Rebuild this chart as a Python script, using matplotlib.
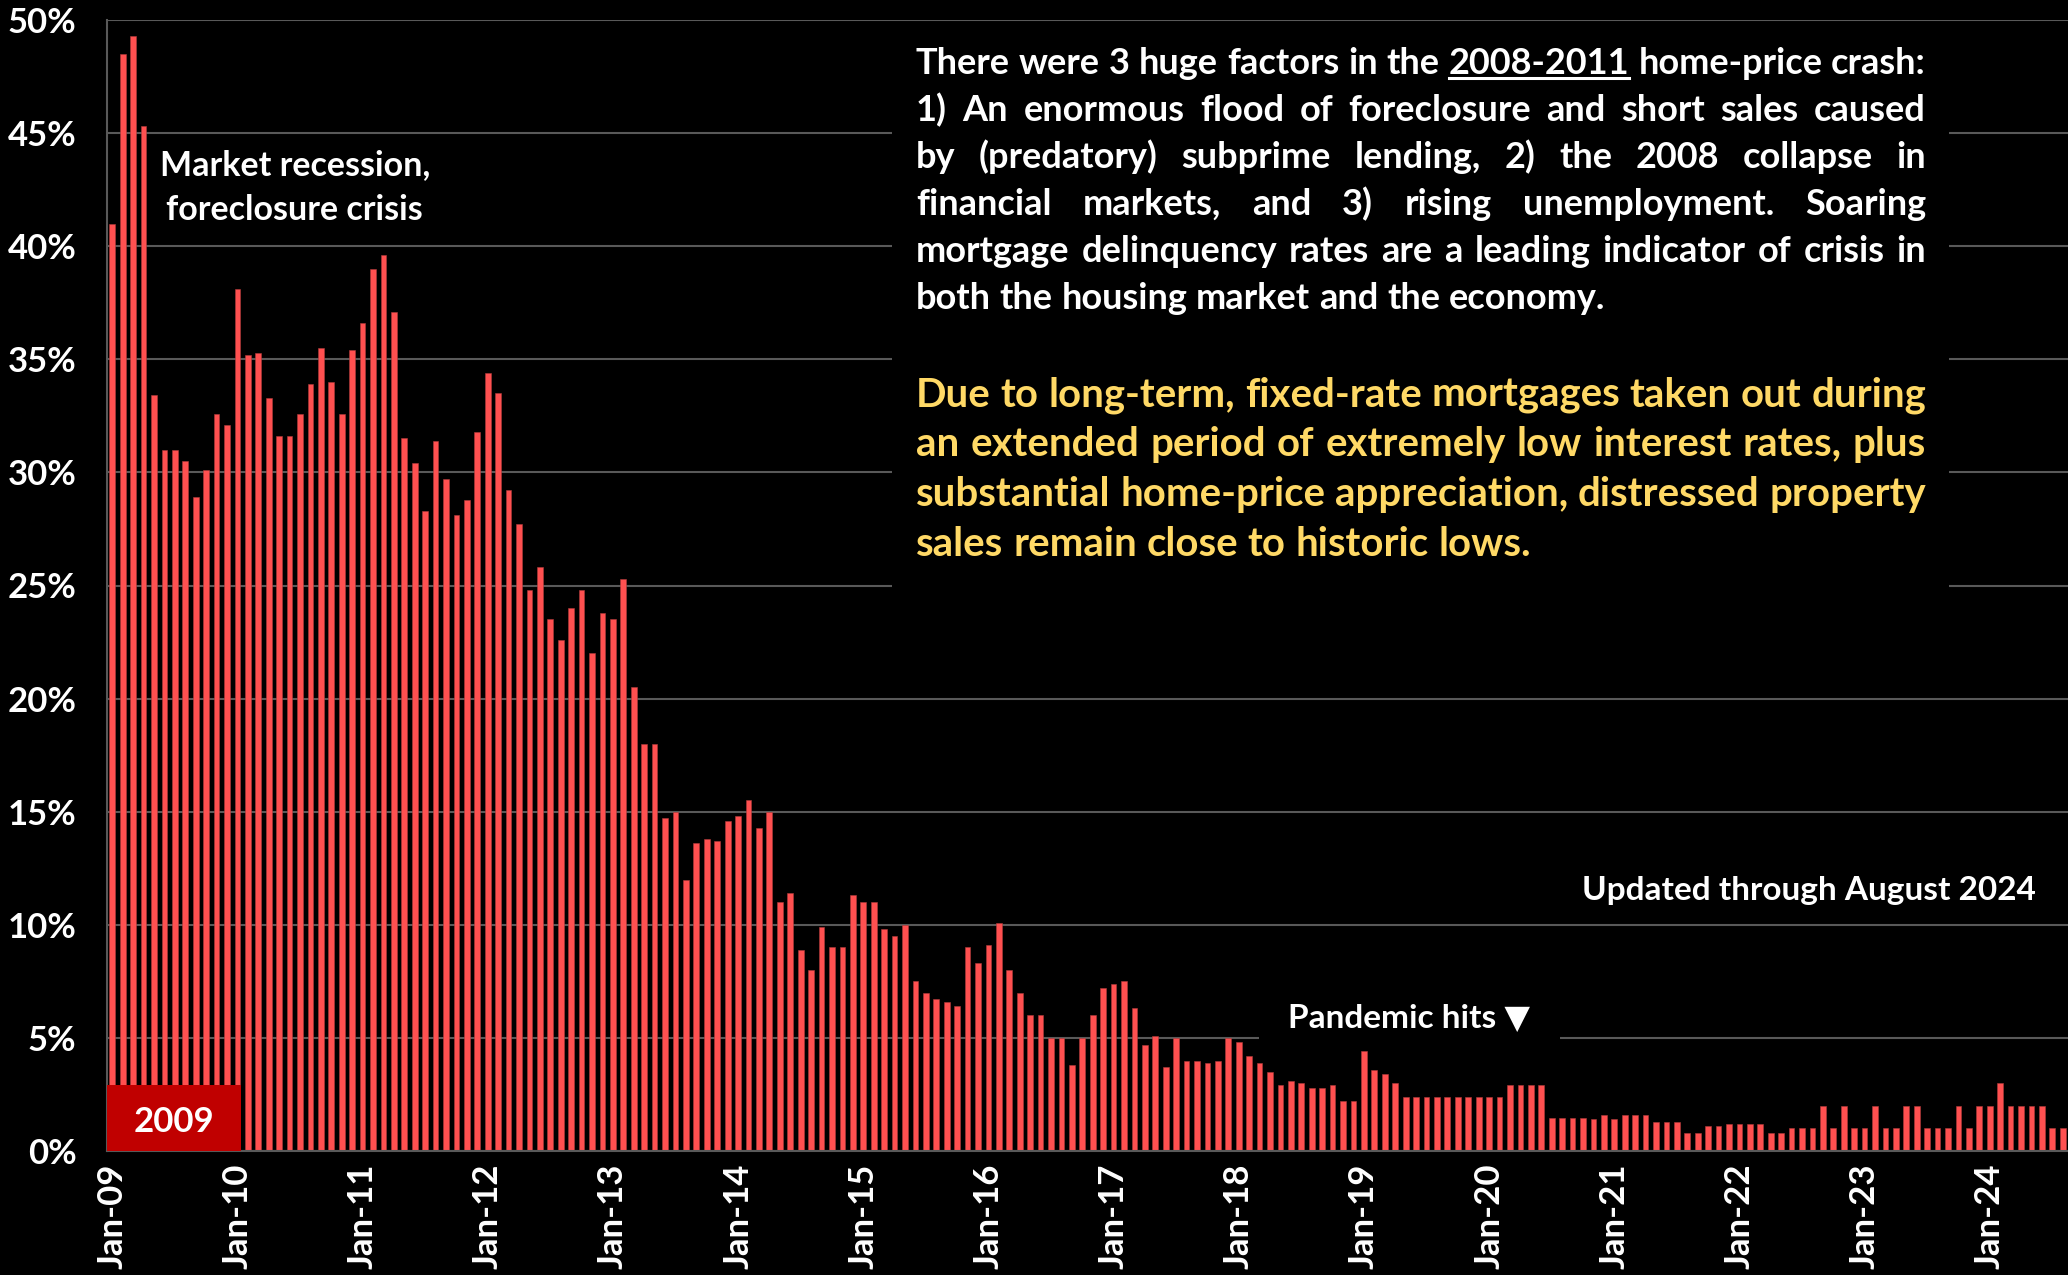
import matplotlib
matplotlib.use('Agg')
import matplotlib.pyplot as plt
from matplotlib.patches import Rectangle
from matplotlib.lines import Line2D
import numpy as np

plt.rcParams['font.family'] = ['Lato', 'DejaVu Sans']
plt.rcParams['font.weight'] = 'bold'

# distressed sales share, monthly Jan-09 .. Aug-24 (percent)
y2009 = [41.0, 48.5, 49.3, 45.3, 33.4, 31.0, 31.0, 30.5, 28.9, 30.1, 32.6, 32.1]
y2010 = [38.1, 35.2, 35.3, 33.3, 31.6, 31.6, 32.6, 33.9, 35.5, 34.0, 32.6, 35.4]
y2011 = [36.6, 39.0, 39.6, 37.1, 31.5, 30.4, 28.3, 31.4, 29.7, 28.1, 28.8, 31.8]
y2012 = [34.4, 33.5, 29.2, 27.7, 24.8, 25.8, 23.5, 22.6, 24.0, 24.8, 22.0, 23.8]
y2013 = [23.5, 25.3, 20.5, 18.0, 18.0, 14.7, 15.0, 12.0, 13.6, 13.8, 13.7, 14.6]
y2014 = [14.8, 15.5, 14.3, 15.0, 11.0, 11.4, 8.9, 8.0, 9.9, 9.0, 9.0, 11.3]
y2015 = [11.0, 11.0, 9.8, 9.5, 10.0, 7.5, 7.0, 6.7, 6.6, 6.4, 9.0, 8.3]
y2016 = [9.1, 10.1, 8.0, 7.0, 6.0, 6.0, 5.0, 5.0, 3.8, 5.0, 6.0, 7.2]
y2017 = [7.4, 7.5, 6.3, 4.7, 5.1, 3.7, 5.0, 4.0, 4.0, 3.9, 4.0, 5.0]
y2018 = [4.8, 4.2, 3.9, 3.5, 2.9, 3.1, 3.0, 2.8, 2.8, 2.9, 2.2, 2.2]
y2019 = [4.4, 3.6, 3.4, 3.0, 2.4, 2.4, 2.4, 2.4, 2.4, 2.4, 2.4, 2.4]
y2020 = [2.4, 2.4, 2.9, 2.9, 2.9, 2.9, 1.45, 1.45, 1.45, 1.45, 1.4, 1.6]
y2021 = [1.4, 1.6, 1.6, 1.6, 1.3, 1.3, 1.3, 0.8, 0.8, 1.1, 1.1, 1.2]
y2022 = [1.2, 1.2, 1.2, 0.8, 0.8, 1.0, 1.0, 1.0, 2.0, 1.0, 2.0, 1.0]
y2023 = [1.0, 2.0, 1.0, 1.0, 2.0, 2.0, 1.0, 1.0, 1.0, 2.0, 1.0, 2.0]
y2024 = [2.0, 3.0, 2.0, 2.0, 2.0, 2.0, 1.0, 1.0]

values = (y2009 + y2010 + y2011 + y2012 + y2013 + y2014 + y2015 + y2016 +
          y2017 + y2018 + y2019 + y2020 + y2021 + y2022 + y2023 + y2024)
years = list(range(9, 25))
tick_labels = ['Jan-%02d' % y for y in years]
y_ticks = [0, 5, 10, 15, 20, 25, 30, 35, 40, 45, 50]

white_par = [
    "There were 3 huge factors in the 2008-2011 home-price crash:",
    "1) An enormous flood of foreclosure and short sales caused",
    "by (predatory) subprime lending, 2) the 2008 collapse in",
    "financial markets, and 3) rising unemployment. Soaring",
    "mortgage delinquency rates are a leading indicator of crisis in",
    "both the housing market and the economy.",
]
yellow_par = [
    "Due to long-term, fixed-rate mortgages taken out during",
    "an extended period of extremely low interest rates, plus",
    "substantial home-price appreciation, distressed property",
    "sales remain close to historic lows.",
]

W, H = 2068, 1275
BAR = '#FF5050'
GRID = '#595959'

fig = plt.figure(figsize=(W / 100, H / 100), dpi=100, facecolor='black')
ax = fig.add_axes([107 / W, (H - 1151) / H, 1 - 107 / W, (1151 - 20) / H])
ax.set_facecolor('black')

x = np.arange(len(values))
ax.bar(x, values, width=0.55, color=BAR, edgecolor='#B03A3A', linewidth=0.4, zorder=2)

ax.set_xlim(-0.5, len(values) - 0.5)
ax.set_ylim(0, 50)
ax.set_yticks(y_ticks)
ax.set_yticklabels(['%d%%' % v for v in y_ticks])
ax.set_xticks(np.arange(0, len(values), 12))
ax.set_xticklabels(tick_labels, rotation=90)
ax.tick_params(axis='y', length=0, pad=22, labelsize=25, labelcolor='white')
ax.tick_params(axis='x', length=0, pad=9, labelsize=25, labelcolor='white')
for lab in ax.get_xticklabels() + ax.get_yticklabels():
    lab.set_fontweight('bold')

ax.yaxis.grid(True, color=GRID, linewidth=1.5)
ax.set_axisbelow(True)
for s in ['top', 'right']:
    ax.spines[s].set_visible(False)
for s in ['left', 'bottom']:
    ax.spines[s].set_color(GRID)
    ax.spines[s].set_linewidth(1.5)

# 2009 marker box
ax.add_patch(Rectangle((-0.5, 0), 12.8, 2.9, facecolor='#C00000', edgecolor='none', zorder=3))
ax.text(5.9, 1.3, '2009', color='white', fontsize=25, fontweight='bold',
        ha='center', va='center', zorder=4)

ax.text(17.5, 42.6, 'Market recession,\nforeclosure crisis', color='white', fontsize=24.5,
        fontweight='bold', ha='center', va='center', linespacing=1.5)

ax.text(184.4, 11.5, 'Updated through August 2024', color='white', fontsize=24,
        fontweight='bold', ha='right', va='center')

# black patch under "Pandemic hits" breaking the 5% gridline
ax.add_patch(Rectangle((109.9, 4.7), 28.9, 0.6, facecolor='black', edgecolor='none', zorder=1))
ax.text(135.9, 5.85, 'Pandemic hits \u25BC', color='white', fontsize=24,
        fontweight='bold', ha='right', va='center', zorder=4)

# black panel behind the commentary
fig.add_artist(Rectangle((892 / W, 1 - 600 / H), (1949 - 892) / W, (600 - 30) / H,
                         transform=fig.transFigure, facecolor='black', edgecolor='none', zorder=1))

renderer = fig.canvas.get_renderer()


def text_width(s, size):
    t = fig.text(0, 0, s, fontsize=size, fontweight='bold')
    w = t.get_window_extent(renderer).width
    t.remove()
    return w


def justify(lines, left, right, baselines, color, underline=None):
    width = right - left
    widest = max(text_width(l, 20) for l in lines)
    size = 20 * width / widest * 0.998
    space = text_width('a a', size) - text_width('aa', size)
    for i, line in enumerate(lines):
        words = line.split(' ')
        widths = [text_width(w, size) for w in words]
        if i < len(lines) - 1 and len(words) > 1:
            gap = (width - sum(widths)) / (len(words) - 1)
        else:
            gap = space
        xp = left
        yb = baselines[i]
        for w, ww in zip(words, widths):
            fig.text(xp / W, 1 - yb / H, w, fontsize=size, fontweight='bold',
                     color=color, ha='left', va='baseline', zorder=3)
            if underline is not None and w == underline:
                fig.add_artist(Line2D([xp / W, (xp + ww) / W],
                                      [1 - (yb + 4) / H, 1 - (yb + 4) / H],
                                      transform=fig.transFigure, color=color, linewidth=2.2, zorder=3))
            xp += ww + gap


justify(white_par, 916, 1926, [74, 121, 168, 215, 262, 309], 'white', underline='2008-2011')
justify(yellow_par, 916, 1926, [407, 456, 506, 556], '#FFD966')

plt.savefig('out.png', dpi=100, facecolor='black')
